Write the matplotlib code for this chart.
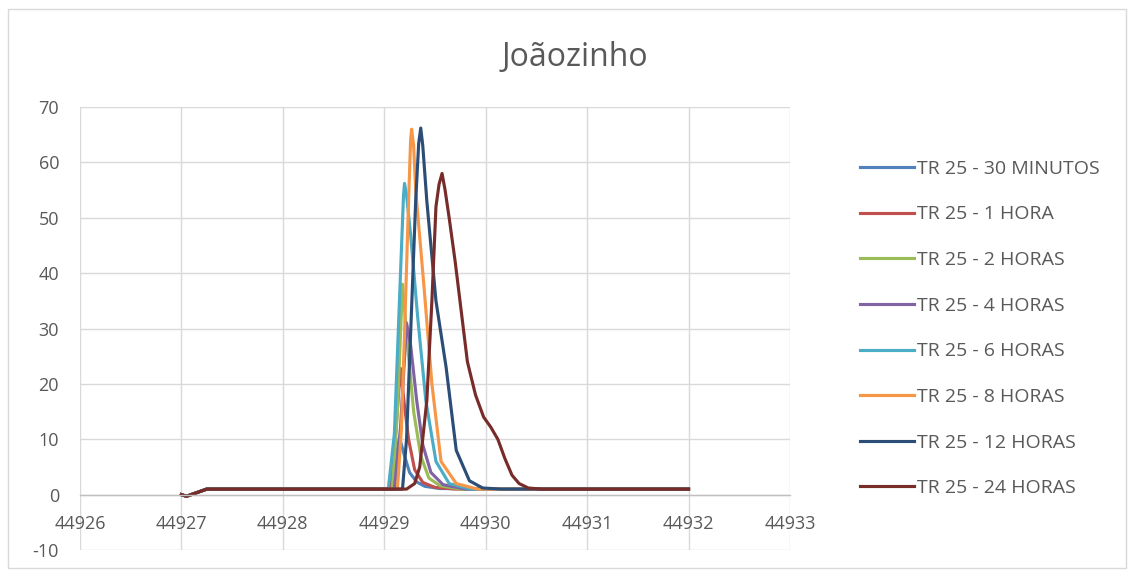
import matplotlib.pyplot as plt
from matplotlib.patches import Rectangle

plt.rcParams['font.family'] = ['Open Sans', 'DejaVu Sans']
plt.rcParams['axes.unicode_minus'] = False

# Dados (tempo em dias, série Excel; vazão)
ini_x = [44927.0, 44927.05, 44927.25]
ini_y = [0.0, -0.3, 1.0]

x_30min = [44929.05, 44929.10, 44929.15, 44929.20, 44929.25, 44929.32, 44929.40, 44929.55]
y_30min = [1.0, 5.0, 10.3, 7.0, 4.0, 2.3, 1.5, 1.1]

x_1h = [44929.05, 44929.10, 44929.16, 44929.20, 44929.24, 44929.30, 44929.38, 44929.50, 44929.70]
y_1h = [1.0, 8.0, 22.8, 16.0, 10.0, 4.5, 2.2, 1.3, 1.0]

x_2h = [44929.08, 44929.13, 44929.18, 44929.23, 44929.29, 44929.36, 44929.44, 44929.55, 44929.75]
y_2h = [1.0, 15.0, 38.0, 27.0, 15.0, 7.0, 3.0, 1.6, 1.0]

x_4h = [44929.10, 44929.16, 44929.22, 44929.26, 44929.32, 44929.38, 44929.46, 44929.58, 44929.80]
y_4h = [1.0, 12.0, 31.0, 27.0, 17.0, 9.0, 4.0, 1.8, 1.0]

x_6h = [44929.04, 44929.10, 44929.15, 44929.19, 44929.20, 44929.22, 44929.26, 44929.33, 44929.41,
        44929.51, 44929.64, 44929.85]
y_6h = [1.0, 11.0, 35.0, 54.0, 56.2, 54.0, 47.0, 32.0, 17.0, 6.0, 2.0, 1.0]

x_8h = [44929.13, 44929.17, 44929.20, 44929.24, 44929.26, 44929.27, 44929.29, 44929.31, 44929.39,
        44929.47, 44929.56, 44929.71, 44929.92]
y_8h = [1.0, 12.0, 29.0, 53.0, 64.0, 66.0, 63.0, 55.0, 38.0, 20.0, 6.0, 2.0, 1.0]

x_12h = [44929.18, 44929.22, 44929.26, 44929.31, 44929.34, 44929.36, 44929.38, 44929.42, 44929.51,
         44929.61, 44929.71, 44929.84, 44929.97, 44930.15]
y_12h = [1.0, 10.0, 29.0, 53.0, 63.5, 66.2, 63.0, 53.0, 35.0, 23.0, 8.0, 2.5, 1.2, 1.0]

x_24h = [44929.22, 44929.30, 44929.35, 44929.42, 44929.47, 44929.51, 44929.54, 44929.57, 44929.60,
         44929.64, 44929.70, 44929.76, 44929.82, 44929.90, 44929.98, 44930.05, 44930.12, 44930.19,
         44930.26, 44930.33, 44930.42, 44930.55]
y_24h = [1.0, 2.0, 5.0, 17.0, 35.0, 52.0, 56.0, 58.0, 55.0,
         50.0, 42.0, 33.0, 24.0, 18.0, 14.0, 12.2, 10.0, 6.5,
         3.5, 2.0, 1.2, 1.0]

fim_x = [44932.0]
fim_y = [1.0]

nomes = ['TR 25 - 30 MINUTOS', 'TR 25 - 1 HORA', 'TR 25 - 2 HORAS', 'TR 25 - 4 HORAS',
         'TR 25 - 6 HORAS', 'TR 25 - 8 HORAS', 'TR 25 - 12 HORAS', 'TR 25 - 24 HORAS']
series = [(x_30min, y_30min), (x_1h, y_1h), (x_2h, y_2h), (x_4h, y_4h),
          (x_6h, y_6h), (x_8h, y_8h), (x_12h, y_12h), (x_24h, y_24h)]
cores = ['#4F81BD', '#C0504D', '#9BBB59', '#8064A2', '#4BACC6', '#F79646', '#2C4D75', '#772C2A']

fig = plt.figure(figsize=(11.34, 5.74), dpi=100)
ax = fig.add_axes([0.0705, 0.0418, 0.6261, 0.7718])

for nome, (xs, ys), cor in zip(nomes, series, cores):
    ax.plot(ini_x + xs + fim_x, ini_y + ys + fim_y, color=cor, lw=2.25, label=nome,
            solid_joinstyle='round')

ax.set_xlim(44926, 44933)
ax.set_ylim(-10, 70)
ax.set_xticks(range(44926, 44934))
ax.set_yticks(range(-10, 71, 10))
ax.grid(True, color='#d9d9d9', lw=1)
ax.set_axisbelow(True)
for s in ['top', 'right', 'left']:
    ax.spines[s].set_visible(False)
ax.spines['bottom'].set_position(('data', 0))
ax.spines['bottom'].set_color('#bfbfbf')
ax.spines['bottom'].set_linewidth(1)
ax.tick_params(axis='both', length=0, labelsize=13, colors='#595959')
ax.tick_params(axis='y', pad=15)
ax.tick_params(axis='x', pad=15)

fig.text(0.507, 0.9, 'Joãozinho', ha='center', va='center', fontsize=23, color='#595959')

ax.legend(loc='center left', bbox_to_anchor=(1.074, 0.5), frameon=False, fontsize=14,
          labelcolor='#595959', handlelength=2.8, handletextpad=0.15, labelspacing=1.42)

fig.patches.append(Rectangle((0.007, 0.01), 0.986, 0.975, transform=fig.transFigure,
                             fill=False, edgecolor='#d9d9d9', lw=1))

fig.savefig('out.png', dpi=100)
